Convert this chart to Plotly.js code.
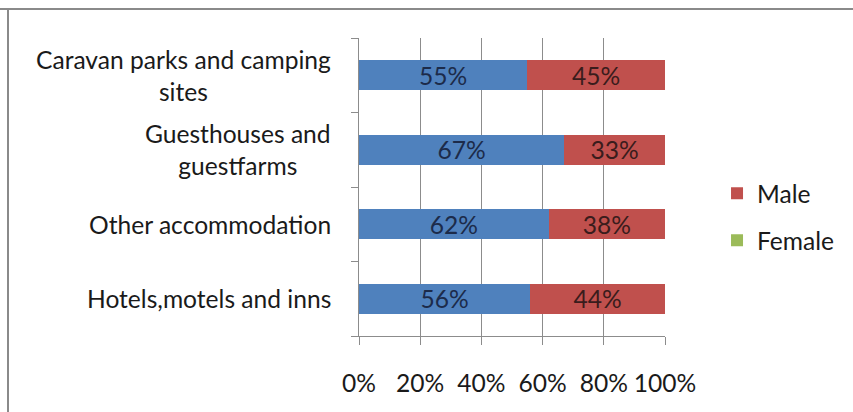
<!DOCTYPE html>
<html>
<head>
<meta charset="utf-8">
<script src="https://cdn.plot.ly/plotly-3.0.1.min.js"></script>
<style>
  html, body { margin: 0; padding: 0; background: #fff; }
  #chart { width: 853px; height: 412px; }
</style>
</head>
<body>
<div id="chart"></div>
<script>
// categories, bottom to top
let categories = ['Hotels,motels and inns', 'Other accommodation', 'Guesthouses and guestfarms', 'Caravan parks and camping sites'];
let categoryLabels = ['Hotels,motels and inns', 'Other accommodation', 'Guesthouses and<br>guestfarms', 'Caravan parks and camping<br>sites'];

// shares (blue series has no legend entry in the original)
let blueShare = [0.56, 0.62, 0.67, 0.55];
let maleShare = [0.44, 0.38, 0.33, 0.45];
let femaleShare = [0, 0, 0, 0];

let xTicks = [0, 0.2, 0.4, 0.6, 0.8, 1];

let fontFamily = 'Lato, "Open Sans", sans-serif';
let fontSize = 24.6;

let traces = [
  {
    type: 'bar', orientation: 'h', y: categories, x: blueShare,
    marker: {color: '#4f81bd'}, showlegend: false,
    texttemplate: '%{x:.0%}', textposition: 'inside', insidetextanchor: 'middle',
    constraintext: 'none',
    textfont: {family: fontFamily, size: fontSize, color: '#1c2b4a'},
    hoverinfo: 'skip'
  },
  {
    type: 'bar', orientation: 'h', y: categories, x: maleShare, name: 'Male',
    legendgroup: 'male',
    marker: {color: '#c0504d'},
    texttemplate: '%{x:.0%}', textposition: 'inside', insidetextanchor: 'middle',
    constraintext: 'none',
    textfont: {family: fontFamily, size: fontSize, color: '#3a1c1c'},
    hoverinfo: 'skip'
  },
  {
    type: 'bar', orientation: 'h', y: categories, x: femaleShare, name: 'Female',
    legendgroup: 'female',
    marker: {color: '#9bbb59', line: {width: 0}},
    hoverinfo: 'skip'
  }
];

// category labels as centred annotations (lines centred like the original)
let annotations = categories.map((c, i) => ({
  xref: 'paper', yref: 'y', x: -0.085, y: c,
  xanchor: 'right', yanchor: 'middle', align: 'center',
  text: categoryLabels[i], showarrow: false,
  font: {family: fontFamily, size: fontSize, color: '#1a1a1a'}
}));

let layout = {
  width: 853, height: 412,
  margin: {l: 359, r: 188, t: 38, b: 76},
  paper_bgcolor: '#fff', plot_bgcolor: '#fff',
  barmode: 'stack', bargap: 0.6,
  font: {family: fontFamily, size: fontSize, color: '#1a1a1a'},
  xaxis: {
    range: [0, 1], tickvals: xTicks, tickformat: '.0%',
    showgrid: true, gridcolor: '#8c8c8c', gridwidth: 1,
    showline: true, linecolor: '#8c8c8c', linewidth: 1,
    ticks: 'outside', ticklen: 8, tickcolor: '#8c8c8c',
    ticklabelstandoff: 17, zeroline: false, fixedrange: true
  },
  yaxis: {
    showticklabels: false, showgrid: false, zeroline: false,
    showline: true, linecolor: '#8c8c8c', linewidth: 1,
    ticks: 'outside', ticklen: 7, tickcolor: '#8c8c8c', tickson: 'boundaries',
    fixedrange: true
  },
  legend: {
    x: 1.17, y: 0.4, xanchor: 'left', yanchor: 'middle',
    traceorder: 'grouped', tracegroupgap: 12,
    font: {family: fontFamily, size: fontSize, color: '#1a1a1a'},
    bgcolor: 'rgba(0,0,0,0)'
  },
  annotations: annotations,
  shapes: [
    {type: 'line', xref: 'paper', yref: 'paper', x0: -359 / 306, x1: 1 + 188 / 306, y0: 1 + 29 / 298, y1: 1 + 29 / 298, line: {color: '#8a8a8a', width: 2}},
    {type: 'line', xref: 'paper', yref: 'paper', x0: -351 / 306, x1: -351 / 306, y0: 1 + 29 / 298, y1: -76 / 298, line: {color: '#8a8a8a', width: 2}}
  ]
};

Plotly.newPlot('chart', traces, layout, {displayModeBar: false, staticPlot: true});
</script>
</body>
</html>
